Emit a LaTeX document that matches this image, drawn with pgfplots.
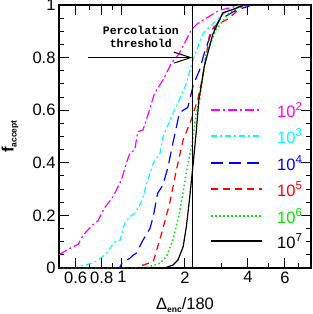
\documentclass[border=0pt]{standalone}
\usepackage{pgfplots}
\pgfplotsset{compat=1.18}
\usepackage{fontspec}
\setmainfont{Liberation Sans}
\newfontfamily\monob{Liberation Mono}
\usetikzlibrary{arrows.meta}
\definecolor{mag}{RGB}{255,0,255}
\definecolor{cya}{RGB}{0,255,255}
\definecolor{blu}{RGB}{0,0,255}
\definecolor{red1}{RGB}{255,0,0}
\definecolor{grn1}{RGB}{0,230,0}
\tikzset{
  smag/.style={draw=mag, line width=1.2pt, dash pattern=on 9pt off 3pt on 2pt off 3pt},
  scya/.style={draw=cya, line width=1.2pt, dash pattern=on 6pt off 3pt on 2pt off 3pt},
  sblu/.style={draw=blu, line width=1.2pt, dash pattern=on 12pt off 6pt},
  sred/.style={draw=red1, line width=1.2pt, dash pattern=on 7pt off 5pt},
  sgrn/.style={draw=grn1, line width=1.5pt, dash pattern=on 1.5pt off 2.5pt},
  sblk/.style={draw=black, line width=1.2pt},
}
\begin{document}
\begin{tikzpicture}
\useasboundingbox (-59pt,-46pt) rectangle (254pt,268pt);
\begin{axis}[
  at={(0,0)}, anchor=south west,
  scale only axis, width=252pt, height=263pt,
  xmode=log, xmin=0.5, xmax=8, ymin=0, ymax=1,
  xtick={0.6,0.8,1,2,4,6}, xticklabels={0.6,0.8,1,2,4,6},
  minor xtick={0.7,0.9,3,5,7},
  ytick={0,0.2,0.4,0.6,0.8,1}, yticklabels={0,0.2,0.4,0.6,0.8,1},
  minor y tick num=3,
  major tick length=10pt, minor tick length=5pt,
  tick style={black, line width=1pt},
  axis line style={line width=1.2pt},
  tick label style={font=\fontsize{16.5}{19}\selectfont},
  /pgf/number format/assume math mode=true,
  no markers,
  xlabel={Δ\raisebox{-3pt}{\fontsize{8.5}{9}\selectfont\bfseries enc}/180},
  ylabel={\textbf{f}\raisebox{-3pt}{\fontsize{8.5}{9}\selectfont\bfseries accept}},
  label style={font=\fontsize{16.5}{19}\selectfont},
  xlabel style={at={(axis description cs:0.5,-0.1407)}, anchor=center},
  ylabel style={at={(axis description cs:-0.194,0.5)}, anchor=center},
]
\addplot[smag] coordinates {
(0.5,0.05) (0.564,0.075) (0.618,0.09) (0.652,0.125) (0.716,0.16) (0.769,0.18) (0.822,0.227) (0.906,0.271) (0.994,0.335) (1.05,0.40) (1.09,0.436) (1.15,0.449) (1.19,0.518) (1.26,0.525) (1.33,0.582) (1.43,0.664) (1.57,0.715) (1.72,0.778) (1.88,0.816) (2.14,0.905) (2.30,0.93) (2.92,0.98) (3.6,0.997) (3.9,1) (8,1)};
\addplot[scya] coordinates {
(0.5,0) (0.62,0) (0.64,0.008) (0.716,0.018) (0.77,0.03) (0.85,0.06) (0.924,0.10) (0.98,0.106) (1.03,0.17) (1.09,0.195) (1.15,0.208) (1.24,0.252) (1.30,0.31) (1.41,0.398) (1.52,0.436) (1.57,0.50) (1.78,0.60) (1.88,0.64) (2.03,0.702) (2.18,0.79) (2.43,0.89) (2.72,0.93) (3.2,0.98) (4.0,1) (8,1)};
\addplot[sblu] coordinates {
(0.5,0) (0.97,0) (1.0,0.018) (1.09,0.037) (1.13,0.049) (1.17,0.056) (1.26,0.106) (1.36,0.15) (1.41,0.195) (1.48,0.284) (1.57,0.316) (1.66,0.385) (1.75,0.474) (1.88,0.588) (1.96,0.60) (2.06,0.61) (2.2,0.70) (2.35,0.753) (2.47,0.816) (2.66,0.89) (2.92,0.943) (3.5,0.98) (4.2,1) (8,1)};
\addplot[sred] coordinates {
(0.5,0) (1.2,0) (1.25,0.01) (1.41,0.024) (1.48,0.08) (1.55,0.135) (1.69,0.246) (1.82,0.373) (1.96,0.487) (2.14,0.563) (2.30,0.64) (2.43,0.727) (2.61,0.88) (2.75,0.918) (3.0,0.935) (3.25,0.95) (3.8,1) (8,1)};
\addplot[sgrn] coordinates {
(0.5,0) (1.3,0) (1.35,0.005) (1.52,0.018) (1.63,0.043) (1.75,0.106) (1.88,0.208) (1.98,0.309) (2.05,0.385) (2.18,0.487) (2.26,0.588) (2.35,0.64) (2.42,0.715) (2.52,0.816) (2.81,0.905) (3.25,0.97) (3.7,1) (8,1)};
\addplot[sblk] coordinates {
(0.5,0) (1.6,0) (1.75,0.011) (1.85,0.03) (1.96,0.081) (2.03,0.157) (2.10,0.259) (2.18,0.385) (2.26,0.512) (2.33,0.64) (2.40,0.70) (2.47,0.765) (2.72,0.89) (3.03,0.97) (3.5,0.987) (3.8,1) (8,1)};
\draw[line width=1pt] (axis cs:2.17,0) -- (axis cs:2.17,1);
\draw[line width=1pt, -{Straight Barb[length=17pt,width=11pt]}] (axis cs:0.686,0.8) -- (axis cs:2.17,0.8);
\node[align=center, font=\monob\bfseries\fontsize{11.5}{13}\selectfont] at (axis cs:1.23,0.878) {Percolation\\threshold};
\end{axis}
% legend
\draw[smag] (152pt,158pt) -- (203pt,158pt);
\draw[scya] (152pt,132pt) -- (203pt,132pt);
\draw[sblu] (152pt,105pt) -- (203pt,105pt);
\draw[sred] (152pt,79pt) -- (203pt,79pt);
\draw[sgrn] (152pt,52pt) -- (203pt,52pt);
\draw[sblk] (152pt,27pt) -- (203pt,27pt);
\begin{scope}[every node/.style={anchor=west, inner sep=0pt, font=\fontsize{16.5}{19}\selectfont}]
\node[text=mag] at (218pt,158pt) {10\textsuperscript{2}};
\node[text=cya] at (218pt,132pt) {10\textsuperscript{3}};
\node[text=blu] at (218pt,105pt) {10\textsuperscript{4}};
\node[text=red1] at (218pt,79pt) {10\textsuperscript{5}};
\node[text=grn1] at (218pt,52pt) {10\textsuperscript{6}};
\node[text=black] at (218pt,27pt) {10\textsuperscript{7}};
\end{scope}
\end{tikzpicture}
\end{document}
